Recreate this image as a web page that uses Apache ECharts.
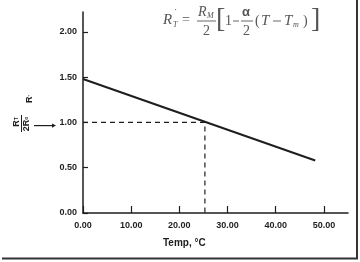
<!DOCTYPE html>
<html><head><meta charset="utf-8">
<script src="https://cdn.jsdelivr.net/npm/echarts@6/dist/echarts.min.js"></script>
<style>html,body{margin:0;padding:0;background:#fff}#c{width:360px;height:262px}</style>
</head><body><div id="c"></div>
<script>
// data
var tempLine = [0, 48.2];
var rtLine = [1.48, 0.58];
var refTemp = [0, 25.3, 25.3];
var refR = [1.00, 1.00, 0];
var xTicks = [0, 10, 20, 30, 40, 50];
var yTicks = [0, 0.5, 1.0, 1.5, 2.0];

var chart = echarts.init(document.getElementById('c'));
var ink = '#1e1e1e';
var fm = '#555';
var lab = {color: ink, fontFamily: 'Liberation Sans', fontWeight: 'bold', fontSize: 9};
function t(x, y, text, font, opts) {
  return Object.assign({type: 'text', x: x, y: y, style: {text: text, font: font, fill: fm, verticalAlign: 'middle'}}, opts || {});
}
var serif = '"Liberation Serif"';
chart.setOption({
  animation: false,
  grid: {left: 83, right: 12, top: 12, bottom: 49},
  xAxis: {
    type: 'value', min: 0, max: 55, interval: 10,
    axisLine: {show: true, onZero: false, lineStyle: {color: ink, width: 1.5}},
    axisTick: {show: true, inside: true, length: 7, lineStyle: {color: ink, width: 1.2}},
    splitLine: {show: false},
    axisLabel: Object.assign({margin: 8, showMaxLabel: false, formatter: function(v){return v.toFixed(2);}}, lab)
  },
  yAxis: {
    type: 'value', min: 0, max: 2.22, interval: 0.5,
    axisLine: {show: true, onZero: false, lineStyle: {color: ink, width: 1.5}},
    axisTick: {show: true, inside: true, length: 5, lineStyle: {color: ink, width: 1.2}},
    splitLine: {show: false},
    axisLabel: Object.assign({margin: 6, showMaxLabel: false, formatter: function(v){return v.toFixed(2);}}, lab)
  },
  series: [
    {type: 'line', data: tempLine.map(function(t, i){return [t, rtLine[i]];}), symbol: 'none',
     lineStyle: {color: ink, width: 2}},
    {type: 'line', data: refTemp.map(function(t, i){return [t, refR[i]];}), symbol: 'none',
     lineStyle: {color: ink, width: 1.2, type: [5, 4]}}
  ],
  graphic: [
    // formula
    t(163, 20, 'R', 'italic 15px ' + serif),
    t(174, 13, '\u02d9', '10px ' + serif),
    t(173, 25, 'T', 'italic 8px ' + serif),
    t(182, 20, '=', '14px ' + serif),
    t(198, 12, 'R', 'italic 14px ' + serif),
    t(207, 16, 'M', 'italic 8px ' + serif),
    {type: 'rect', shape: {x: 197, y: 20.5, width: 19, height: 1}, style: {fill: '#666'}},
    t(203, 31, '2', '14px ' + serif),
    t(216, 20, '[', '28px ' + serif),
    t(225, 21, '1', '14px ' + serif),
    {type: 'rect', shape: {x: 233, y: 20.5, width: 6, height: 1}, style: {fill: '#666'}},
    t(242, 12, '\u03b1', 'bold 13px "Liberation Sans"'),
    {type: 'rect', shape: {x: 241, y: 20.5, width: 12, height: 1}, style: {fill: '#666'}},
    t(243, 31, '2', '14px ' + serif),
    t(255, 21, '(', '14px ' + serif),
    t(261, 21, 'T', 'italic 15px ' + serif),
    {type: 'rect', shape: {x: 273, y: 20.5, width: 8, height: 1}, style: {fill: '#666'}},
    t(284, 21, 'T', 'italic 15px ' + serif),
    t(293, 25, 'm', 'italic 8px ' + serif),
    t(303, 21, ')', '14px ' + serif),
    t(311, 20, ']', '28px ' + serif),
    // y axis label
    {type: 'text', x: 30, y: 99, rotation: Math.PI / 2, style: {text: '{a|R}{s|\'}', rich: {a: {font: 'bold 9px "Liberation Sans"', fill: ink}, s: {font: 'bold 6px "Liberation Sans"', fill: ink}}, align: 'center', verticalAlign: 'middle'}},
    {type: 'text', x: 17, y: 122, rotation: Math.PI / 2, style: {text: '{a|R}{s|T}', rich: {a: {font: 'bold 9px "Liberation Sans"', fill: ink}, s: {font: 'bold 5px "Liberation Sans"', fill: ink}}, align: 'center', verticalAlign: 'middle'}},
    {type: 'rect', shape: {x: 21, y: 115, width: 1, height: 17}, style: {fill: ink}},
    {type: 'text', x: 27, y: 124, rotation: Math.PI / 2, style: {text: '{a|2R}{s|o}', rich: {a: {font: 'bold 9px "Liberation Sans"', fill: ink}, s: {font: 'bold 5px "Liberation Sans"', fill: ink}}, align: 'center', verticalAlign: 'middle'}},
    {type: 'rect', shape: {x: 34, y: 125, width: 19, height: 1.2}, style: {fill: ink}},
    {type: 'polygon', shape: {points: [[56, 125.6], [52, 123.5], [52, 127.7]]}, style: {fill: ink}},
    // x axis name
    {type: 'text', x: 163, y: 243, style: {text: 'Temp, \u00b0C', font: 'bold 10px "Liberation Sans"', fill: ink, verticalAlign: 'middle'}},
    // frame
    {type: 'rect', shape: {x: 356, y: 0, width: 2, height: 259}, style: {fill: '#333'}},
    {type: 'rect', shape: {x: 2, y: 257.5, width: 356, height: 2}, style: {fill: '#333'}}
  ]
});
</script></body></html>
